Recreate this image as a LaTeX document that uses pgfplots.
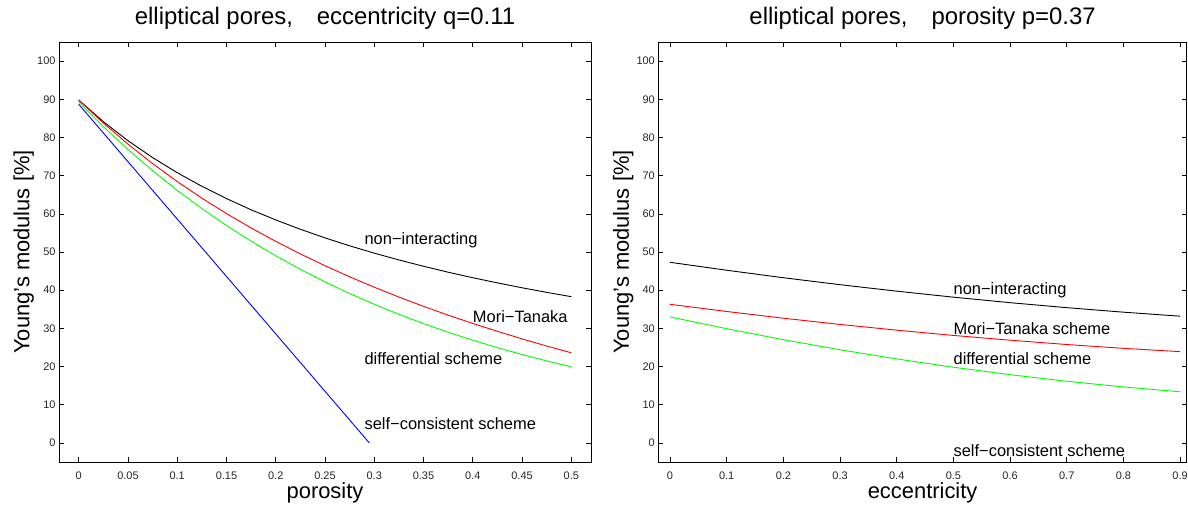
\documentclass[border=0pt]{standalone}
\usepackage{fontspec}
\setmainfont{Liberation Sans}
\usepackage{pgfplots}
\pgfplotsset{compat=1.18}
\definecolor{mgreen}{rgb}{0,1,0}
\definecolor{mred}{rgb}{1,0,0}
\definecolor{mblue}{rgb}{0,0,1}
\pgfplotsset{
  mstyle/.style={
    scale only axis,
    height=420bp,
    ymin=-5, ymax=105,
    ytick={0,10,...,100},
    yticklabels={0,10,20,30,40,50,60,70,80,90,100},
    xtick pos=both, ytick pos=both,
    xticklabel pos=bottom, yticklabel pos=left,
    tick align=inside,
    major tick length=5bp,
    tick style={black, line width=0.6bp},
    axis line style={black, line width=0.9bp},
    ticklabel style={font=\fontsize{11}{13}\selectfont, text=black!85},
    xticklabel style={yshift=-6bp},
    title style={font=\fontsize{24}{28}\selectfont, anchor=base, at={(0.5,1)}, yshift=12bp},
    xlabel style={font=\fontsize{22}{26}\selectfont, anchor=base, at={(0.5,0)}, yshift=-36bp},
    ylabel style={font=\fontsize{22}{26}\selectfont, anchor=base},
    every axis plot/.append style={line width=0.9bp},
  }
}
\begin{document}
\begin{tikzpicture}
\path[use as bounding box] (0,0) rectangle (1188bp,507bp);
% left axis
\begin{axis}[mstyle,
  at={(59bp,45bp)}, anchor=south west,
  width=532bp,
  xmin=-0.02, xmax=0.52,
  xtick={0,0.05,...,0.5},
  xticklabels={0,0.05,0.1,0.15,0.2,0.25,0.3,0.35,0.4,0.45,0.5},
  title={elliptical pores,\hspace{1.0em}eccentricity q=0.11},
  xlabel={porosity},
  ylabel={Young's modulus [\%]},
  ylabel style={at={(axis description cs:-0.0555,0.5)}},
]
\addplot[black] coordinates {
(0,89.80) (0.025,84.14) (0.05,79.15) (0.075,74.73) (0.1,70.77) (0.125,67.21)
(0.15,63.99) (0.175,61.06) (0.2,58.40) (0.225,55.95) (0.25,53.70) (0.275,51.62)
(0.3,49.70) (0.325,47.92) (0.35,46.26) (0.375,44.71) (0.4,43.26) (0.425,41.91)
(0.45,40.63) (0.475,39.43) (0.5,38.30)};
\addplot[mred] coordinates {
(0,89.80) (0.025,83.77) (0.05,78.25) (0.075,73.16) (0.1,68.46) (0.125,64.11)
(0.15,60.07) (0.175,56.30) (0.2,52.79) (0.225,49.49) (0.25,46.41) (0.275,43.51)
(0.3,40.78) (0.325,38.20) (0.35,35.77) (0.375,33.47) (0.4,31.29) (0.425,29.22)
(0.45,27.25) (0.475,25.38) (0.5,23.60)};
\addplot[mgreen] coordinates {
(0,89.30) (0.025,82.85) (0.05,76.86) (0.075,71.31) (0.1,66.15) (0.125,61.38)
(0.15,56.94) (0.175,52.83) (0.2,49.01) (0.225,45.47) (0.25,42.18) (0.275,39.14)
(0.3,36.31) (0.325,33.68) (0.35,31.25) (0.375,28.99) (0.4,26.90) (0.425,24.95)
(0.45,23.15) (0.475,21.48) (0.5,19.93)};
\addplot[mblue] coordinates {(0,88.7) (0.1,58.63) (0.2,28.56) (0.295,0)};
\node[anchor=west, inner sep=0, font=\fontsize{16.5}{19}\selectfont] at (axis cs:0.29,53) {non−interacting};
\node[anchor=west, inner sep=0, font=\fontsize{16.5}{19}\selectfont] at (axis cs:0.40,33) {Mori−Tanaka};
\node[anchor=west, inner sep=0, font=\fontsize{16.5}{19}\selectfont] at (axis cs:0.29,22) {differential scheme};
\node[anchor=west, inner sep=0, font=\fontsize{16.5}{19}\selectfont] at (axis cs:0.29,5) {self−consistent scheme};
\end{axis}
% right axis
\begin{axis}[mstyle,
  at={(658.3bp,45bp)}, anchor=south west,
  width=528.6bp,
  xmin=-0.0207, xmax=0.912,
  xtick={0,0.1,...,0.9},
  xticklabels={0,0.1,0.2,0.3,0.4,0.5,0.6,0.7,0.8,0.9},
  title={elliptical pores,\hspace{1.0em}porosity p=0.37},
  xlabel={eccentricity},
  ylabel={Young's modulus [\%]},
  ylabel style={at={(axis description cs:-0.0558,0.5)}},
]
\addplot[black] coordinates {
(0,47.30) (0.1,45.22) (0.2,43.26) (0.3,41.44) (0.4,39.74) (0.5,38.17)
(0.6,36.73) (0.7,35.42) (0.8,34.24) (0.9,33.19)};
\addplot[mred] coordinates {
(0,36.30) (0.1,34.42) (0.2,32.66) (0.3,31.03) (0.4,29.53) (0.5,28.15)
(0.6,26.90) (0.7,25.77) (0.8,24.77) (0.9,23.90)};
\addplot[mgreen] coordinates {
(0,33.00) (0.1,29.91) (0.2,27.04) (0.3,24.40) (0.4,22.00) (0.5,19.82)
(0.6,17.87) (0.7,16.15) (0.8,14.66) (0.9,13.39)};
\node[anchor=west, inner sep=0, font=\fontsize{16.5}{19}\selectfont] at (axis cs:0.5,40) {non−interacting};
\node[anchor=west, inner sep=0, font=\fontsize{16.5}{19}\selectfont] at (axis cs:0.5,30) {Mori−Tanaka scheme};
\node[anchor=west, inner sep=0, font=\fontsize{16.5}{19}\selectfont] at (axis cs:0.5,22) {differential scheme};
\node[anchor=west, inner sep=0, font=\fontsize{16.5}{19}\selectfont] at (axis cs:0.5,-2) {self−consistent scheme};
\end{axis}
\end{tikzpicture}
\end{document}
